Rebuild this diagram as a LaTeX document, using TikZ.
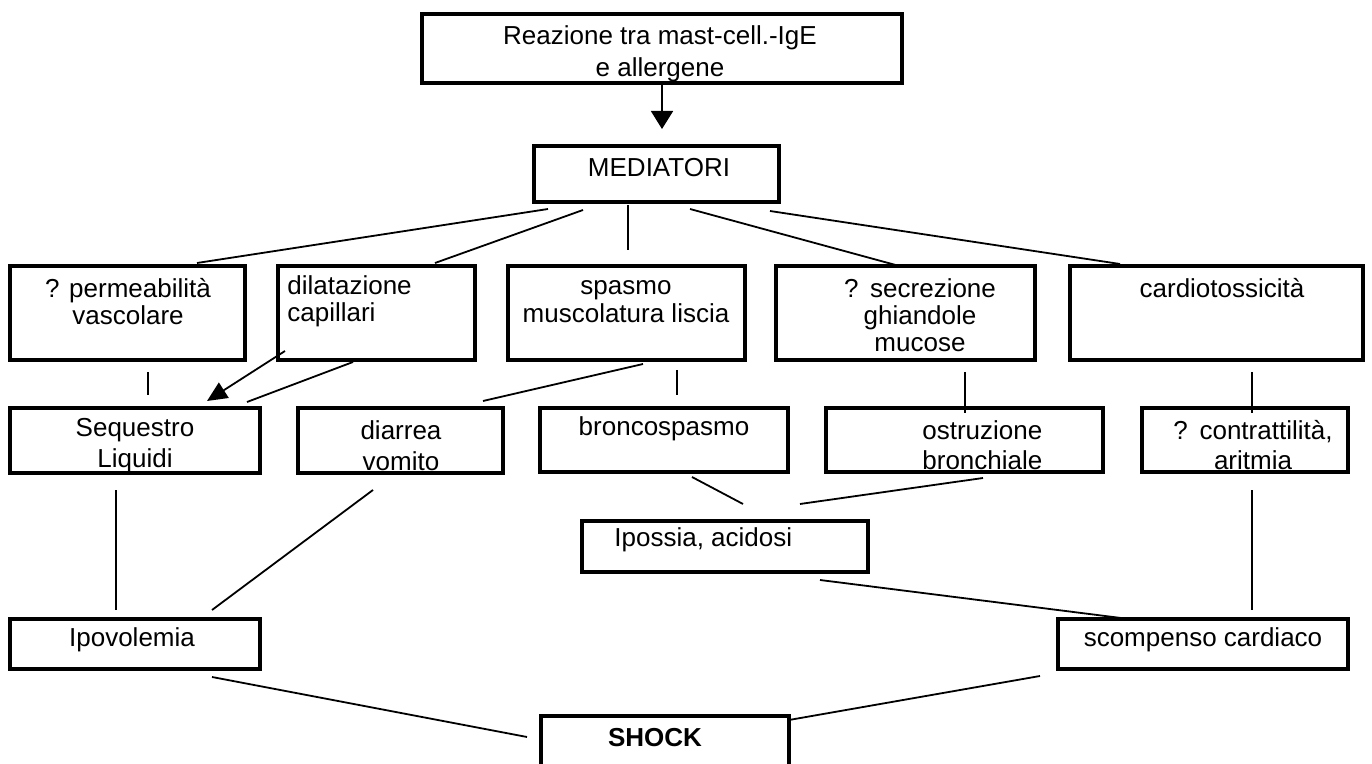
\documentclass[tikz,border=0pt]{standalone}
\usepackage{fontspec}
\setmainfont{Liberation Sans}
\usetikzlibrary{arrows.meta,fit}
\begin{document}
\begin{tikzpicture}[x=0.5pt,y=-0.5pt,
  box/.style={draw, line width=1.55pt, inner sep=0pt, rectangle},
  txt/.style={inner sep=0pt, align=center, yshift=-1.5pt, font=\fontsize{13}{13.5}\selectfont},
  conn/.style={line width=0.9pt},
  arr/.style={conn, -{Triangle[length=9pt,width=11pt]}},
  arrb/.style={conn, -{Triangle[length=10pt,width=9pt]}}]
\useasboundingbox (0,0) rectangle (1372,764);
\fill[white] (0,0) rectangle (1372,764);

% boxes
\node[box, fit={(422,14) (902,83)}] (top) {};
\node[box, fit={(534,146) (779,202)}] (med) {};
\node[box, fit={(10,266) (245,360)}] (perm) {};
\node[box, fit={(278,266) (475,360)}] (dil) {};
\node[box, fit={(508,266) (745,360)}] (spa) {};
\node[box, fit={(776,266) (1035,360)}] (sec) {};
\node[box, fit={(1070,266) (1363,360)}] (car) {};
\node[box, fit={(10,408) (260,473)}] (seq) {};
\node[box, fit={(298,408) (503,473)}] (dia) {};
\node[box, fit={(540,408) (788,472)}] (bro) {};
\node[box, fit={(826,408) (1103,472)}] (ost) {};
\node[box, fit={(1142,408) (1348,472)}] (con) {};
\node[box, fit={(582,521) (868,572)}] (ips) {};
\node[box, fit={(10,619) (260,669)}] (ipo) {};
\node[box, fit={(1058,619) (1348,669)}] (sco) {};
\node[box, fit={(541,716) (789,790)}] (sho) {};

% texts
\node[txt, font=\fontsize{13}{16}\selectfont] (topT) at (660,51) {Reazione tra mast-cell.-IgE\\e allergene};
\node[txt] (medT) at (659,165) {MEDIATORI};
\node[txt] (permT) at (128,298.5) {? permeabilità\\vascolare};
\node[txt, align=left, anchor=west] (dilT) at (287,298.5) {dilatazione\\capillari};
\node[txt, font=\fontsize{13}{14}\selectfont] (spaT) at (626,299) {spasmo\\muscolatura liscia};
\node[txt] (secT) at (920,312) {?\hspace{0.45em}secrezione\\ghiandole\\mucose};
\node[txt] (carT) at (1222,285) {cardiotossicità};
\node[txt, font=\fontsize{13}{15.5}\selectfont] (seqT) at (135,442.5) {Sequestro\\Liquidi};
\node[txt, font=\fontsize{13}{15.5}\selectfont] (diaT) at (401,442.5) {diarrea\\vomito};
\node[txt] (broT) at (664,426) {broncospasmo};
\node[txt, font=\fontsize{13}{15}\selectfont, align=left, anchor=west] (ostT) at (922,442) {ostruzione\\bronchiale};
\node[txt, font=\fontsize{13}{15}\selectfont] (conT) at (1253,442) {?\hspace{0.45em}contrattilità,\\aritmia};
\node[txt, anchor=west] (ipsT) at (614,537) {Ipossia, acidosi};
\node[txt] (ipoT) at (132,637) {Ipovolemia};
\node[txt] (scoT) at (1203,637) {scompenso cardiaco};
\node[txt, font=\fontsize{13}{15}\selectfont\bfseries] (shoT) at (655,735) {SHOCK};

% connector end points
\coordinate (a0) at (662,83);  \coordinate (a1) at (662,129);
\coordinate (m1) at (548,209); \coordinate (p1) at (197,263);
\coordinate (m2) at (583,210); \coordinate (d1) at (435,263);
\coordinate (m3) at (628,205); \coordinate (s1) at (628,250);
\coordinate (m4) at (690,209); \coordinate (e1) at (903,267);
\coordinate (m5) at (770,211); \coordinate (c1) at (1120,264);
\coordinate (p2) at (148,372); \coordinate (q1) at (148,395);
\coordinate (d2) at (285,351); \coordinate (q2) at (207,401);
\coordinate (d3) at (353,362); \coordinate (q3) at (247,402);
\coordinate (s2) at (643,364); \coordinate (v1) at (483,401);
\coordinate (s3) at (677,370); \coordinate (b1) at (677,395);
\coordinate (e2) at (965,372); \coordinate (o1) at (965,413);
\coordinate (c2) at (1252,372); \coordinate (k1) at (1252,413);
\coordinate (b2) at (692,477); \coordinate (i1) at (743,504);
\coordinate (o2) at (983,478); \coordinate (i2) at (800,504);
\coordinate (q4) at (116,490); \coordinate (l1) at (116,610);
\coordinate (v2) at (373,490); \coordinate (l2) at (212,610);
\coordinate (i3) at (820,580); \coordinate (r1) at (1121,618);
\coordinate (k2) at (1252,490); \coordinate (r2) at (1252,610);
\coordinate (l3) at (212,677); \coordinate (h1) at (527,737);
\coordinate (r3) at (1040,676); \coordinate (h2) at (789,720);

% connectors
\draw[arr] (a0) -- (a1);
\draw[conn] (m1) -- (p1);
\draw[conn] (m2) -- (d1);
\draw[conn] (m3) -- (s1);
\draw[conn] (m4) -- (e1);
\draw[conn] (m5) -- (c1);
\draw[conn] (p2) -- (q1);
\draw[arrb] (d2) -- (q2);
\draw[conn] (d3) -- (q3);
\draw[conn] (s2) -- (v1);
\draw[conn] (s3) -- (b1);
\draw[conn] (e2) -- (o1);
\draw[conn] (c2) -- (k1);
\draw[conn] (b2) -- (i1);
\draw[conn] (o2) -- (i2);
\draw[conn] (q4) -- (l1);
\draw[conn] (v2) -- (l2);
\draw[conn] (i3) -- (r1);
\draw[conn] (k2) -- (r2);
\draw[conn] (l3) -- (h1);
\draw[conn] (r3) -- (h2);
\end{tikzpicture}
\end{document}
